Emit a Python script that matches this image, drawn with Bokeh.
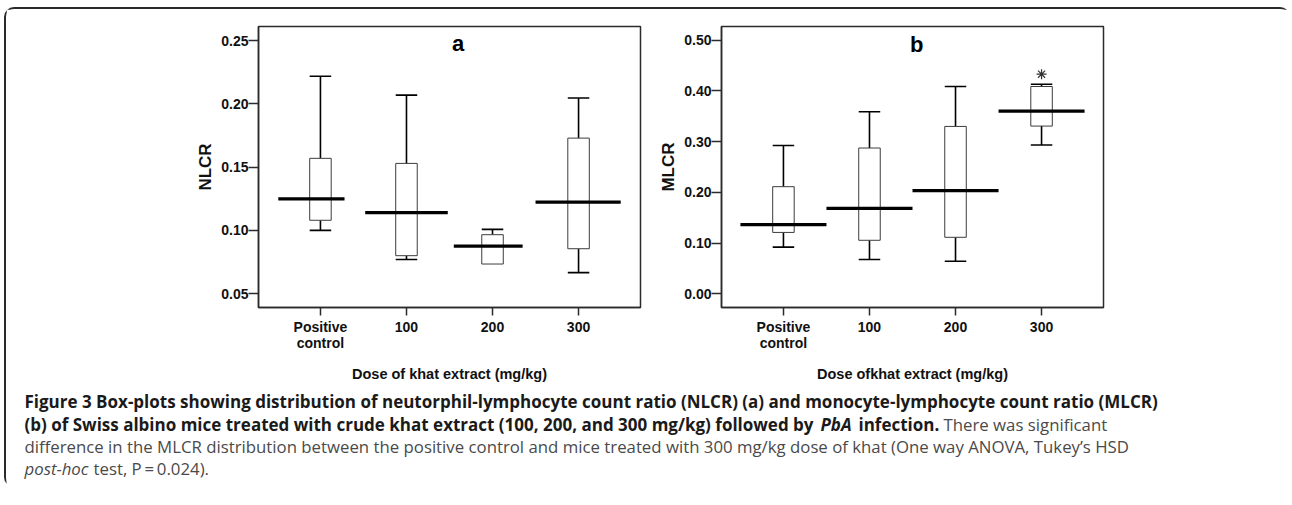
from bokeh.plotting import figure
from bokeh.layouts import column, row
from bokeh.models import Range1d, FixedTicker, NumeralTickFormatter, Label
from bokeh.core.properties import value
from bokeh.embed import file_html
from bokeh.resources import INLINE

# ---------------- data ----------------
categories = ["Positive\ncontrol", "100", "200", "300"]

# Panel a: NLCR
nlcr_low = [0.100, 0.077, 0.0734, 0.0666]
nlcr_q1 = [0.108, 0.080, 0.0734, 0.0855]
nlcr_median = [0.125, 0.114, 0.0876, 0.1224]
nlcr_q3 = [0.157, 0.153, 0.0966, 0.173]
nlcr_high = [0.222, 0.207, 0.1008, 0.2047]
nlcr_ticks = [0.05, 0.10, 0.15, 0.20, 0.25]

# Panel b: MLCR
mlcr_low = [0.092, 0.0675, 0.0642, 0.2933]
mlcr_q1 = [0.121, 0.1055, 0.1114, 0.3307]
mlcr_median = [0.1364, 0.1685, 0.2033, 0.3602]
mlcr_q3 = [0.2112, 0.2874, 0.330, 0.4087]
mlcr_high = [0.2925, 0.3589, 0.4087, 0.413]
mlcr_ticks = [0.0, 0.1, 0.2, 0.3, 0.4, 0.5]
mlcr_outlier_idx = [3]
mlcr_outlier_val = [0.433]

caption_line1 = ("Figure 3 Box-plots showing distribution of neutorphil-lymphocyte count ratio "
                 "(NLCR) (a) and monocyte-lymphocyte count ratio (MLCR)")
caption_line2a = ("(b) of Swiss albino mice treated with crude khat extract (100, 200, and 300 mg/kg) "
                  "followed by")
caption_line2b = "PbA"
caption_line2c = "infection."
caption_line2d = "There was significant"
caption_line3 = ("difference in the MLCR distribution between the positive control and mice treated "
                 "with 300 mg/kg dose of khat (One way ANOVA, Tukey\u2019s HSD")
caption_line4a = "post-hoc"
caption_line4b = "test, P\u2009=\u20090.024)."

# ---------------- style ----------------
BOX_W = 0.25
AX_FONT = "Liberation Sans"
CAP_FONT = "Open Sans"
DARK = "#2b2b2b"
PANEL_H = 381


def make_panel(lo, q1, med, q3, hi, ticks, yr, ylabel, xlabel, letter, letter_pos,
               med_l, med_r, width, min_left, min_right):
    xs = list(range(len(categories)))
    p = figure(width=width, height=PANEL_H, x_range=Range1d(-0.72, 3.72), y_range=Range1d(*yr),
               output_backend="svg", toolbar_location=None,
               min_border_left=min_left, min_border_right=min_right,
               min_border_top=17, min_border_bottom=83)
    p.title.visible = False
    p.xgrid.visible = False
    p.ygrid.visible = False
    p.background_fill_color = "white"
    p.border_fill_color = "white"
    p.outline_line_color = DARK
    p.outline_line_width = 1.5

    # whiskers
    up_x = [x for x, a, b in zip(xs, q3, hi) if b > a]
    up_y0 = [a for a, b in zip(q3, hi) if b > a]
    up_y1 = [b for a, b in zip(q3, hi) if b > a]
    dn_x = [x for x, a, b in zip(xs, q1, lo) if b < a]
    dn_y0 = [a for a, b in zip(q1, lo) if b < a]
    dn_y1 = [b for a, b in zip(q1, lo) if b < a]
    p.segment(x0=up_x, y0=up_y0, x1=up_x, y1=up_y1, line_color="black", line_width=1.6)
    p.segment(x0=dn_x, y0=dn_y0, x1=dn_x, y1=dn_y1, line_color="black", line_width=1.6)
    p.segment(x0=[x - BOX_W / 2 for x in up_x], y0=up_y1,
              x1=[x + BOX_W / 2 for x in up_x], y1=up_y1, line_color="black", line_width=1.6)
    p.segment(x0=[x - BOX_W / 2 for x in dn_x], y0=dn_y1,
              x1=[x + BOX_W / 2 for x in dn_x], y1=dn_y1, line_color="black", line_width=1.6)
    # boxes
    p.quad(left=[x - BOX_W / 2 for x in xs], right=[x + BOX_W / 2 for x in xs],
           bottom=q1, top=q3, fill_color="white", line_color="#3c3c3c", line_width=1)
    # median lines
    p.segment(x0=[x + l for x, l in zip(xs, med_l)], y0=med,
              x1=[x + r for x, r in zip(xs, med_r)], y1=med,
              line_color="black", line_width=3.2)

    # axes
    p.xaxis.ticker = FixedTicker(ticks=xs)
    p.xaxis.major_label_overrides = {i: c for i, c in enumerate(categories)}
    p.yaxis.ticker = FixedTicker(ticks=ticks)
    p.yaxis.formatter = NumeralTickFormatter(format="0.00")
    for ax in (p.xaxis[0], p.yaxis[0]):
        ax.minor_tick_line_color = None
        ax.major_tick_in = 0
        ax.axis_line_color = DARK
        ax.axis_line_width = 1.5
        ax.major_tick_line_color = DARK
        ax.major_tick_line_width = 1.5
        ax.major_label_text_font = AX_FONT
        ax.major_label_text_font_style = "bold"
        ax.major_label_text_font_size = "14px"
        ax.major_label_text_color = "#111111"
        ax.axis_label_text_font = AX_FONT
        ax.axis_label_text_font_style = "bold"
        ax.axis_label_text_color = "#111111"
    p.yaxis.major_tick_out = 10
    p.yaxis.major_label_standoff = 0
    p.yaxis.axis_label = ylabel
    p.yaxis.axis_label_text_font_size = "17px"
    p.yaxis.axis_label_standoff = 3
    p.xaxis.major_tick_out = 8
    p.xaxis.major_label_standoff = 3
    p.xaxis.major_label_text_line_height = 1.0
    p.xaxis.axis_label = xlabel
    p.xaxis.axis_label_text_font_size = "14.5px"
    p.xaxis.axis_label_standoff = 12

    p.add_layout(Label(x=letter_pos[0], y=letter_pos[1], text=letter,
                       text_font=AX_FONT, text_font_style="bold", text_font_size="22px",
                       text_align="center", text_baseline="middle", text_color="black"))
    return p


pa = make_panel(nlcr_low, nlcr_q1, nlcr_median, nlcr_q3, nlcr_high, nlcr_ticks,
                (0.039, 0.2613), "NLCR", "Dose of khat extract (mg/kg)", "a", (1.6, 0.2475),
                [-0.49, -0.48, -0.45, -0.50], [0.28, 0.48, 0.35, 0.49],
                width=646, min_left=252, min_right=12)

pb = make_panel(mlcr_low, mlcr_q1, mlcr_median, mlcr_q3, mlcr_high, mlcr_ticks,
                (-0.027, 0.527), "MLCR", "Dose ofkhat extract (mg/kg)", "b", (1.55, 0.491),
                [-0.5, -0.5, -0.5, -0.5], [0.5, 0.5, 0.5, 0.5],
                width=638, min_left=69, min_right=187)
pb.scatter(x=mlcr_outlier_idx, y=mlcr_outlier_val, marker="asterisk", size=10,
           line_color="#333333", line_width=1.2)

# ---------------- caption ----------------
CW, CH = 1284, 97
cap = figure(width=CW, height=CH, x_range=Range1d(0, CW), y_range=Range1d(CH, 0),
             output_backend="svg", toolbar_location=None, min_border=0)
cap.axis.visible = False
cap.grid.visible = False
cap.outline_line_color = None
cap.title.visible = False

BOLD_SIZE = "17px"
REG_SIZE = "16.8px"
BOLD_C = "#1a1a1a"
REG_C = "#4a4a4a"


def ctext(x, y, t, style, color, size):
    cap.text(x=[x], y=[y], text=[t], text_font=value(CAP_FONT), text_font_style=style,
             text_font_size=size, text_baseline="middle", text_align="left",
             text_color=color)


X0 = 18
ctext(X0, 11, caption_line1, "bold", BOLD_C, BOLD_SIZE)
ctext(X0, 34, caption_line2a, "bold", BOLD_C, BOLD_SIZE)
ctext(X0 + 796, 34, caption_line2b, "bold italic", BOLD_C, BOLD_SIZE)
ctext(X0 + 834, 34, caption_line2c, "bold", BOLD_C, BOLD_SIZE)
ctext(X0 + 919, 34, caption_line2d, "normal", REG_C, REG_SIZE)
ctext(X0, 56, caption_line3, "normal", REG_C, REG_SIZE)
ctext(X0, 78, caption_line4a, "italic", REG_C, REG_SIZE)
ctext(X0 + 69, 78, caption_line4b, "normal", REG_C, REG_SIZE)

root = column(row(pa, pb), cap,
              styles={"border-top": "2px solid #2a2a2a", "border-left": "2px solid #2a2a2a",
                      "border-radius": "10px", "margin-top": "7px", "margin-left": "4px"})

open("out.html", "w").write(file_html(root, INLINE))
